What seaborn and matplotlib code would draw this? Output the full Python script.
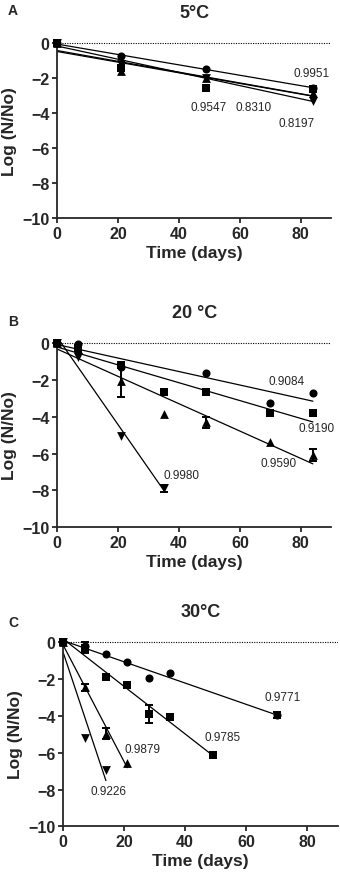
import numpy as np
import matplotlib
matplotlib.use("Agg")
import matplotlib.pyplot as plt
import seaborn as sns

# ---------------- data ----------------
# panel A, 5 C
t5 = [0, 21, 49, 84]
y5_circle = [0, -0.76, -1.49, -2.54]
y5_square = [0, -1.41, -2.59, -2.60]
y5_up = [0, -1.60, -2.00, -2.85]
y5_down = [0, -1.20, -1.97, -3.30]
r2_5 = ["0.9951", "0.9547", "0.8310", "0.8197"]

# panel B, 20 C
t20_circle = [0, 7, 21, 49, 70, 84]
y20_circle = [0, -0.05, -1.30, -1.60, -3.23, -2.72]
t20 = [0, 7, 21, 35, 49, 70, 84]
y20_square = [0, -0.25, -1.20, -2.66, -2.63, -3.80, -3.80]
y20_up = [0, -0.30, -2.05, -3.86, -4.30, -5.38, -6.07]
e20_up = [0, 0, 0.85, 0, 0.30, 0, 0.35]
t20_down = [0, 7, 21, 35]
y20_down = [0, -0.73, -5.04, -7.88]
e20_down = [0, 0, 0, 0.20]
r2_20 = ["0.9084", "0.9190", "0.9590", "0.9980"]

# panel C, 30 C
t30_circle = [0, 7, 14, 21, 28, 35, 70]
y30_circle = [0, -0.20, -0.64, -1.06, -1.96, -1.69, -3.95]
e30_circle = [0, 0, 0, 0, 0, 0, 0.15]
t30_square = [0, 7, 14, 21, 28, 35, 49]
y30_square = [0, -0.30, -1.91, -2.31, -3.90, -4.09, -6.14]
e30_square = [0, 0.30, 0, 0, 0.50, 0, 0.15]
t30_up = [0, 7, 14, 21]
y30_up = [0, -2.45, -4.96, -6.55]
e30_up = [0, 0.20, 0.30, 0]
t30_down = [0, 7, 14]
y30_down = [0, -5.18, -6.95]
r2_30 = ["0.9771", "0.9785", "0.9879", "0.9226"]

# ---------------- style ----------------
sns.set_style("ticks")
plt.rcParams["font.family"] = ["Liberation Sans", "DejaVu Sans"]
plt.rcParams["font.weight"] = "bold"
plt.rcParams["axes.linewidth"] = 1.3
plt.rcParams["xtick.major.width"] = 1.3
plt.rcParams["ytick.major.width"] = 1.3
plt.rcParams["xtick.major.size"] = 3.5
plt.rcParams["ytick.major.size"] = 3.5

fig = plt.figure(figsize=(3.4, 8.78), dpi=100)

ax_a = fig.add_axes([0.168, 0.7507, 0.806, 0.2])
ax_b = fig.add_axes([0.168, 0.3983, 0.806, 0.2107])
ax_c = fig.add_axes([0.186, 0.0577, 0.807, 0.2108])

sizes = {"o": 34, "s": 32, "^": 40, "v": 40}


def series(ax, x, y, marker, yerr=None):
    x = np.array(x, float)
    y = np.array(y, float)
    sns.regplot(x=x, y=y, ax=ax, ci=None,
                marker=marker, color="black",
                scatter_kws={"s": sizes[marker], "zorder": 3, "clip_on": False,
                             "linewidths": 0, "alpha": 1},
                line_kws={"lw": 0.9, "zorder": 2})
    if yerr is not None:
        yerr = np.array(yerr, float)
        m = yerr > 0
        ax.errorbar(x[m], y[m], yerr=yerr[m], fmt="none", ecolor="black",
                    elinewidth=1.4, capsize=3.2, capthick=1.4, zorder=4,
                    clip_on=False)


def frame(ax, title):
    ax.axhline(0, color="black", ls=(0, (1, 1.2)), lw=0.8, zorder=1)
    ax.set_xlim(0, 90)
    ax.set_ylim(-10, 0.05)
    ax.set_xticks([0, 20, 40, 60, 80])
    ax.set_yticks([0, -2, -4, -6, -8, -10])
    ax.tick_params(labelsize=11.5, pad=2)
    ax.set_xlabel("Time (days)", fontsize=12.5, fontweight="bold", labelpad=3)
    ax.set_ylabel("Log (N/No)", fontsize=12.5, fontweight="bold", labelpad=4)
    ax.set_title(title, fontsize=13, fontweight="bold", pad=18)
    sns.despine(ax=ax)


# panel A
series(ax_a, t5, y5_circle, "o")
series(ax_a, t5, y5_square, "s")
series(ax_a, t5, y5_up, "^")
series(ax_a, t5, y5_down, "v")
frame(ax_a, "5°C")
for txt, (x, y) in zip(r2_5, [(83.4, -1.73), (49.6, -3.68), (64.5, -3.68), (78.6, -4.55)]):
    ax_a.text(x, y, txt, fontsize=8.5, fontweight="normal", ha="center", va="center")

# panel B
series(ax_b, t20_circle, y20_circle, "o")
series(ax_b, t20, y20_square, "s")
series(ax_b, t20, y20_up, "^", e20_up)
series(ax_b, t20_down, y20_down, "v", e20_down)
frame(ax_b, "20 °C")
for txt, (x, y) in zip(r2_20, [(75.5, -2.03), (85.2, -4.62), (72.6, -6.52), (41.0, -7.16)]):
    ax_b.text(x, y, txt, fontsize=8.5, fontweight="normal", ha="center", va="center")

# panel C
series(ax_c, t30_circle, y30_circle, "o", e30_circle)
series(ax_c, t30_square, y30_square, "s", e30_square)
series(ax_c, t30_up, y30_up, "^", e30_up)
series(ax_c, t30_down, y30_down, "v")
frame(ax_c, "30°C")
for txt, (x, y) in zip(r2_30, [(71.9, -3.0), (52.4, -5.16), (26.1, -5.8), (15.0, -8.07)]):
    ax_c.text(x, y, txt, fontsize=8.5, fontweight="normal", ha="center", va="center")

# panel letters
fig.text(8 / 340, 1 - 11 / 878, "A", fontsize=10, fontweight="bold", va="center")
fig.text(8 / 340, 1 - 322 / 878, "B", fontsize=10, fontweight="bold", va="center")
fig.text(8 / 340, 1 - 623 / 878, "C", fontsize=10, fontweight="bold", va="center")

fig.savefig("out.png", dpi=100)
